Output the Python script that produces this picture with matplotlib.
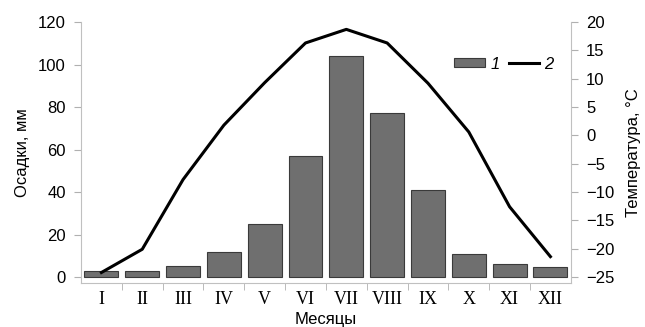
import matplotlib
matplotlib.use("Agg")
import matplotlib.pyplot as plt
from matplotlib.lines import Line2D
from matplotlib.patches import Patch
import numpy as np

months = ["I", "II", "III", "IV", "V", "VI", "VII", "VIII", "IX", "X", "XI", "XII"]
precip = [3, 3, 5, 12, 25, 57, 104, 77, 41, 11, 6, 4.5]
temp = [-24.2, -20.1, -7.8, 1.8, 9.3, 16.3, 18.7, 16.3, 9.2, 0.6, -12.6, -21.4]

plt.rcParams['font.family'] = ['Liberation Sans', 'DejaVu Sans']

fig = plt.figure(figsize=(6.45, 3.27), dpi=100)
ax = fig.add_axes([0.1256, 0.1346, 0.885 - 0.1256, 0.9327 - 0.1346])
x = np.arange(len(months))
ax.bar(x, precip, width=0.83, color="#6f6f6f", edgecolor="#3a3a3a", linewidth=0.8, zorder=2)
ax.set_xlim(-0.5, 11.5)
ax.set_ylim(-2.8, 120)
ax.set_yticks(range(0, 121, 20))
ax.set_xticks(x)
ax.set_xticklabels(months, fontfamily="Liberation Serif", fontsize=13)
ax.tick_params(axis="x", length=0, pad=6)
ax.set_xticks(np.arange(0.5, 11, 1), minor=True)
ax.tick_params(axis="x", which="minor", length=5, color="#b0b0b0", direction="out")
ax.tick_params(axis="y", labelsize=12, length=5, color="#b0b0b0", pad=6)
for s in ["top", "right"]:
    ax.spines[s].set_visible(False)
for s in ["left", "bottom"]:
    ax.spines[s].set_color("#c0c0c0")
ax.set_ylabel("Осадки, мм", fontsize=12, labelpad=6)
ax.set_xlabel("Месяцы", fontsize=12, labelpad=3)

ax2 = ax.twinx()
ax2.plot(x, temp, color="black", linewidth=2.2, zorder=3)
ax2.set_ylim(-25 - 2.8 * 45 / 120, 20)
ax2.set_yticks(range(-25, 21, 5))
ax2.set_yticklabels([str(v).replace("-", "\u2212") for v in range(-25, 21, 5)])
ax2.tick_params(axis="y", labelsize=12, length=5, color="#b0b0b0", pad=6)
for s in ["top", "left", "bottom"]:
    ax2.spines[s].set_visible(False)
ax2.spines["right"].set_color("#c0c0c0")
ax2.set_ylabel("Температура, °C", fontsize=12, labelpad=8)

handles = [Patch(facecolor="#6f6f6f", edgecolor="#3a3a3a", linewidth=0.8),
           Line2D([0], [0], color="black", linewidth=2.2)]
leg = ax2.legend(handles, ["1", "2"], loc="center right", bbox_to_anchor=(0.965, 0.839),
                 ncol=2, frameon=False, fontsize=12, handlelength=1.85, handleheight=0.5,
                 handletextpad=0.3, columnspacing=0.55, borderpad=0, borderaxespad=0)
for t in leg.get_texts():
    t.set_fontstyle("italic")

fig.savefig("out.png", dpi=100)
